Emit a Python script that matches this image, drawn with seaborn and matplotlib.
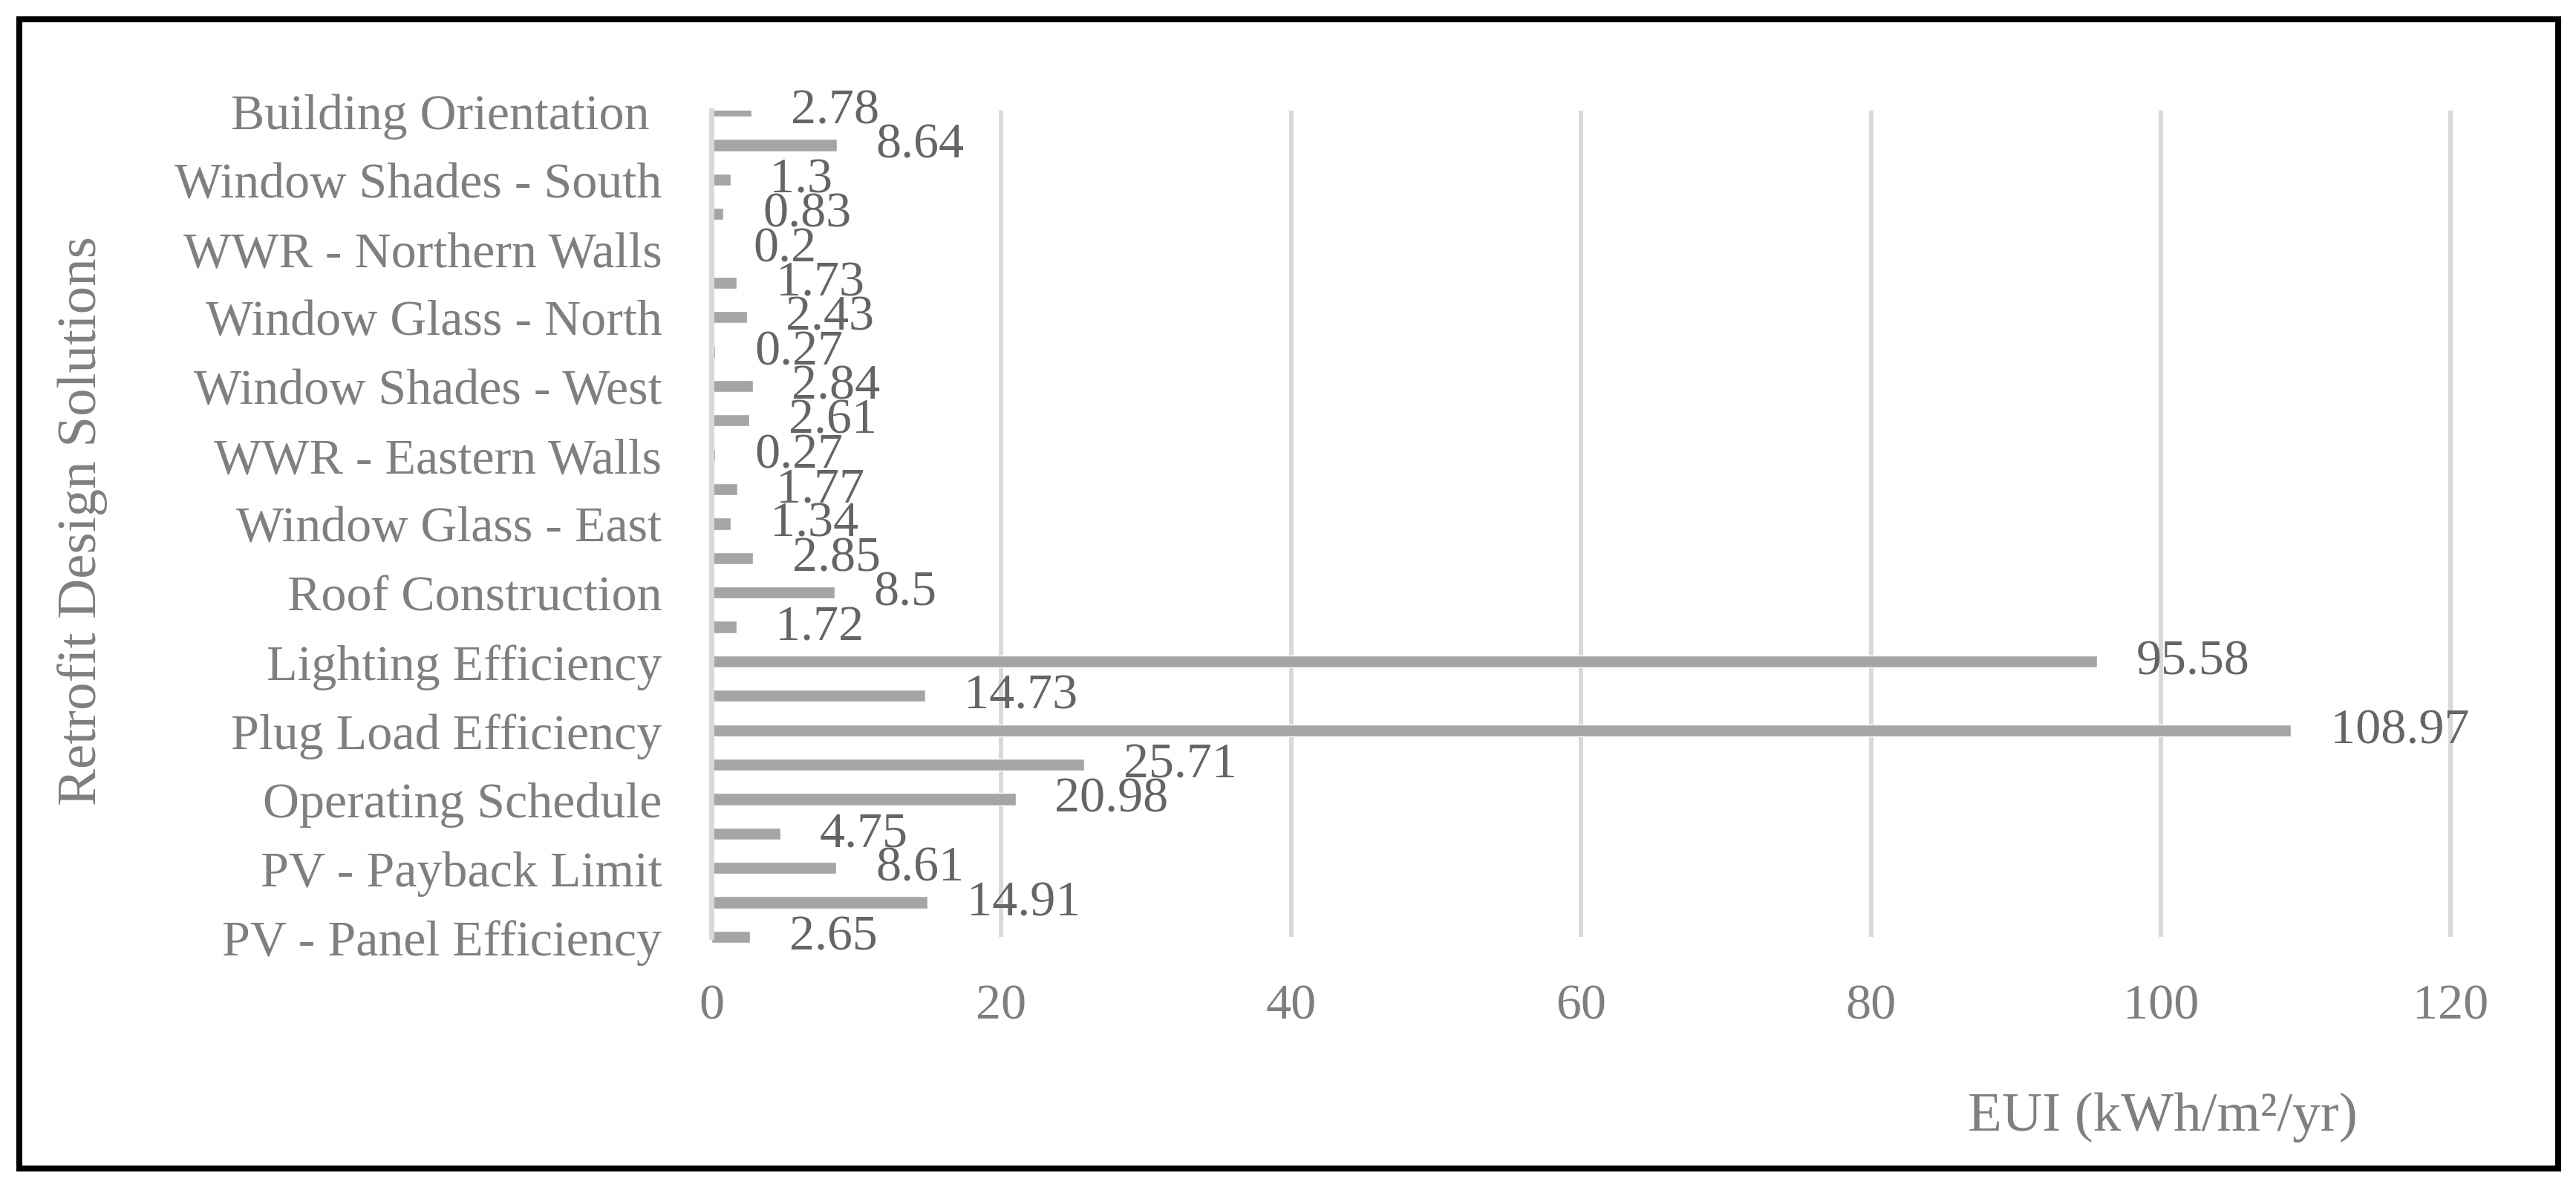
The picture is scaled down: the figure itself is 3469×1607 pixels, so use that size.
"""
EUI savings per retrofit design solution (horizontal bar chart).
"""

import matplotlib
matplotlib.use("Agg")
import matplotlib.pyplot as plt
import seaborn as sns
import pandas as pd
from matplotlib.patches import Rectangle

# categories, top to bottom; every other label is skipped on the axis
CATEGORIES = [
    "Building Orientation ",
    "Window Glass - South",
    "Window Shades - South",
    "WWR - Southern Walls",
    "WWR - Northern Walls",
    "Window Shades - North",
    "Window Glass - North",
    "WWR - Western Walls",
    "Window Shades - West",
    "Window Glass - West",
    "WWR - Eastern Walls",
    "Window Shades - East",
    "Window Glass - East",
    "Wall Construction",
    "Roof Construction",
    "Infiltration",
    "Lighting Efficiency",
    "HVAC Efficiency",
    "Plug Load Efficiency",
    "Daylighting Controls",
    "Operating Schedule",
    "PV - Surface Coverage",
    "PV - Payback Limit",
    "PV - Tilt Angle",
    "PV - Panel Efficiency",
]
EUI = [
    2.78, 8.64, 1.3, 0.83, 0.2, 1.73, 2.43, 0.27, 2.84, 2.61, 0.27, 1.77, 1.34,
    2.85, 8.5, 1.72, 95.58, 14.73, 108.97, 25.71, 20.98, 4.75, 8.61, 14.91, 2.65,
]
X_TICKS = [0, 20, 40, 60, 80, 100, 120]

BAR_COLOR = "#a5a5a5"
GRID_COLOR = "#d9d9d9"
TICK_COLOR = "#7f7f7f"
LABEL_COLOR = "#656565"
FONT_SIZE = 49
TITLE_SIZE = 54

sns.set_theme(style="white")
plt.rcParams["font.family"] = ["Liberation Serif", "DejaVu Serif"]

df = pd.DataFrame({"solution": CATEGORIES, "eui": EUI})

fig = plt.figure(figsize=(34.69, 16.08), dpi=100)
ax = fig.add_axes([0.2762, 0.2146, 0.9522 - 0.2762, 0.9067 - 0.2146])

sns.barplot(
    data=df,
    x="eui",
    y="solution",
    orient="h",
    color=BAR_COLOR,
    saturation=1,
    width=0.35,
    ax=ax,
)

# Excel-style value labels to the right of each bar
ax.bar_label(ax.containers[0], labels=[f"{v:g}" for v in EUI],
             padding=38, fontsize=FONT_SIZE, color=LABEL_COLOR)

n = len(CATEGORIES)
ax.set_ylim(n - 1, 0)
ax.patches[-1].set_clip_on(False)

ax.set_xlim(0, 120.15)
ax.set_xticks(X_TICKS)
ax.set_xticklabels([str(t) for t in X_TICKS])
ax.set_yticks(range(0, n, 2))
ax.set_yticklabels(CATEGORIES[::2])

ax.tick_params(axis="x", length=0, pad=45, labelsize=FONT_SIZE, labelcolor=TICK_COLOR)
ax.tick_params(axis="y", length=0, pad=48, labelsize=FONT_SIZE, labelcolor=TICK_COLOR)

ax.grid(axis="x", color=GRID_COLOR, linewidth=4.3)
ax.grid(axis="y", visible=False)
ax.set_axisbelow(True)

for side in ["top", "right", "bottom"]:
    ax.spines[side].set_visible(False)
ax.spines["left"].set_color(GRID_COLOR)
ax.spines["left"].set_linewidth(5)

ax.set_xlabel("")
ax.set_ylabel("")
fig.text(0.032, 0.564, "Retrofit Design Solutions", rotation=90, ha="center",
         va="center", fontsize=TITLE_SIZE, color=TICK_COLOR)
fig.text(0.8395, 0.064, "EUI (kWh/m²/yr)", ha="center", va="center",
         fontsize=TITLE_SIZE, color=TICK_COLOR)

# black frame around the whole chart
fig.patches.append(Rectangle((0.0075, 0.0205), 0.9856, 0.9627, transform=fig.transFigure,
                             fill=False, edgecolor="black", linewidth=5.8))

fig.savefig("out.png", dpi=100, facecolor="white")
plt.close(fig)
